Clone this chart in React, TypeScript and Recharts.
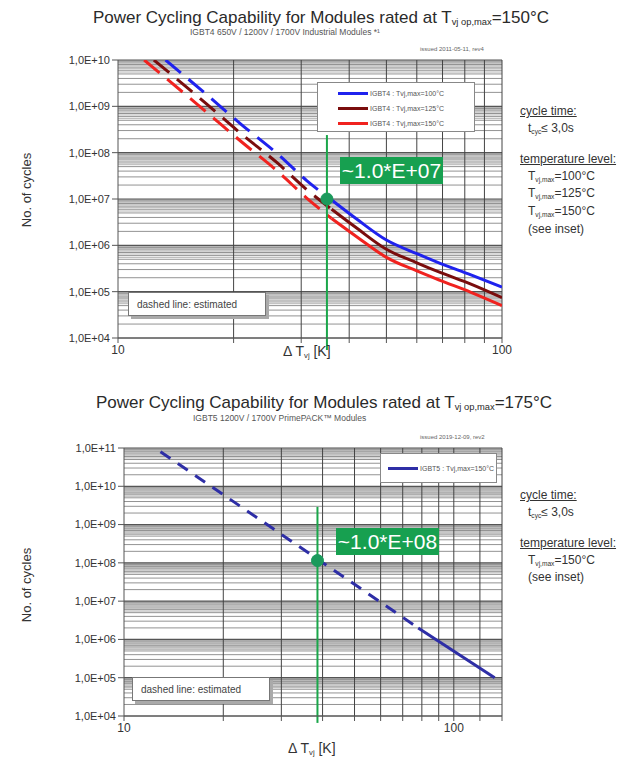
import React from 'react';
import { LineChart, Line, XAxis, YAxis, ReferenceLine, ReferenceDot } from 'recharts';

// top chart: IGBT4, three temperature levels (dashed = estimated part)
const blueDashed = [
  { x: 13.3, y: 1.0e10 }, { x: 17, y: 1.8e9 }, { x: 21, y: 4.0e8 },
  { x: 26, y: 9.5e7 }, { x: 31, y: 2.5e7 }, { x: 36, y: 9.5e6 },
];
const blueSolid = [
  { x: 36, y: 9.5e6 }, { x: 42, y: 3.6e6 }, { x: 50, y: 1.3e6 }, { x: 60, y: 6.6e5 },
  { x: 69, y: 4.1e5 }, { x: 83, y: 2.3e5 }, { x: 100, y: 1.25e5 },
];
const darkDashed = [
  { x: 12.4, y: 1.0e10 }, { x: 17, y: 1.13e9 }, { x: 21, y: 2.5e8 },
  { x: 26, y: 6.0e7 }, { x: 31, y: 1.6e7 }, { x: 36, y: 6.0e6 },
];
const darkSolid = [
  { x: 36, y: 6.0e6 }, { x: 42, y: 2.3e6 }, { x: 50, y: 8.2e5 }, { x: 60, y: 4.2e5 },
  { x: 69, y: 2.6e5 }, { x: 83, y: 1.45e5 }, { x: 100, y: 7.4e4 },
];
const redDashed = [
  { x: 11.7, y: 1.0e10 }, { x: 17, y: 7.5e8 }, { x: 21, y: 1.7e8 },
  { x: 26, y: 4.0e7 }, { x: 31, y: 1.05e7 }, { x: 36, y: 3.8e6 },
];
const redSolid = [
  { x: 36, y: 3.8e6 }, { x: 42, y: 1.5e6 }, { x: 50, y: 5.5e5 }, { x: 60, y: 2.8e5 },
  { x: 69, y: 1.75e5 }, { x: 83, y: 9.7e4 }, { x: 100, y: 5.0e4 },
];

// bottom chart: IGBT5
const igbt5Dashed = [{ x: 12.9, y: 8e10 }, { x: 78, y: 2e6 }];
const igbt5Solid = [{ x: 78, y: 2e6 }, { x: 133, y: 1e5 }];

// axes / grid
const topDecades = [1e4, 1e5, 1e6, 1e7, 1e8, 1e9, 1e10];
const bottomDecades = [1e4, 1e5, 1e6, 1e7, 1e8, 1e9, 1e10, 1e11];
const minorSteps = [2, 3, 4, 5, 6, 7, 8, 9];
const fineSteps = [5.5, 6.5, 7.5, 8.5, 9.25, 9.5, 9.75];
const topXTicks = [10, 20, 30, 40, 50, 60, 70, 80, 90, 100];
const bottomXTicks = [10, 20, 30, 40, 50, 60, 70, 80, 90, 100, 120, 140];

const FONT = '"Liberation Sans", Arial, sans-serif';

const fmtY = (v: number) => '1,0E+' + String(Math.round(Math.log10(v))).padStart(2, '0');
const fmtX = (v: number) => (v === 10 || v === 100 ? String(v) : '');

const gridLines = (decades: number[]) => {
  const out: React.ReactNode[] = [];
  decades.slice(0, -1).forEach((d) => {
    fineSteps.forEach((k) => out.push(<ReferenceLine key={'f' + d + k} y={d * k} stroke="#b5b5b5" strokeWidth={1} />));
    minorSteps.forEach((k) => out.push(<ReferenceLine key={'m' + d + k} y={d * k} stroke="#939393" strokeWidth={1} />));
  });
  decades.forEach((d) => out.push(<ReferenceLine key={'d' + d} y={d} stroke="#555" strokeWidth={1.2} />));
  return out;
};

const Sub = ({ children }: { children: React.ReactNode }) => (
  <span style={{ fontSize: '0.55em', verticalAlign: '-0.25em' }}>{children}</span>
);

const abs = (l: number, t: number, extra: React.CSSProperties = {}): React.CSSProperties => ({
  position: 'absolute', left: l, top: t, ...extra,
});

const GreenTag = ({ l, t, text }: { l: number; t: number; text: string }) => (
  <div style={abs(l, t, { width: 103, height: 27, background: '#17a050', color: '#fff', fontSize: 21, lineHeight: '27px', textAlign: 'center' })}>
    {text}
  </div>
);

const Estimated = ({ l, t }: { l: number; t: number }) => (
  <div style={abs(l, t, { width: 138, height: 24, background: '#fff', border: '1px solid #777', boxShadow: '3px 3px 0 #aaa', fontSize: 10, color: '#444', lineHeight: '24px', paddingLeft: 8, boxSizing: 'border-box' })}>
    dashed line: estimated
  </div>
);

const LegendRow = ({ color, text }: { color: string; text: string }) => (
  <div style={{ display: 'flex', alignItems: 'center', height: 15 }}>
    <div style={{ width: 30, height: 3, background: color, marginRight: 2 }} />
    <span style={{ fontSize: 7, color: '#555' }}>{text}</span>
  </div>
);

const underline: React.CSSProperties = { textDecoration: 'underline' };

export default function App() {
  return (
    <div style={{ position: 'absolute', left: 0, top: 0, width: 639, height: 764, background: '#fff', fontFamily: FONT, color: '#333', overflow: 'hidden' }}>
      {/* ---------- top chart ---------- */}
      <div style={abs(0, 8, { width: 642, textAlign: 'center', fontSize: 17, color: '#2a2a2a' })}>
        Power Cycling Capability for Modules rated at T<Sub>vj op,max</Sub>=150°C
      </div>
      <div style={abs(190, 27, { fontSize: 8.5, color: '#555' })}>IGBT4 650V / 1200V / 1700V Industrial Modules *¹</div>
      <div style={abs(420, 46, { fontSize: 6, color: '#666' })}>issued 2011-05-11, rev4</div>

      <div style={abs(0, 0)}>
        <LineChart width={639} height={380} margin={{ top: 60, right: 137, bottom: 12, left: 58 }}>
          <XAxis type="number" dataKey="x" scale="log" domain={[10, 100]} allowDataOverflow ticks={topXTicks}
            tickFormatter={fmtX} tick={{ fontSize: 12, fill: '#333' }} stroke="#555" tickSize={5} height={30} />
          <YAxis type="number" dataKey="y" scale="log" domain={[1e4, 1e10]} allowDataOverflow ticks={topDecades}
            tickFormatter={fmtY} tick={{ fontSize: 11, fill: '#333' }} stroke="#555" tickSize={6} width={60} />
          {gridLines(topDecades)}
          {topXTicks.slice(1).map((v) => <ReferenceLine key={'v' + v} x={v} stroke="#444" strokeWidth={1} />)}
          <Line data={blueDashed} dataKey="y" type="monotone" stroke="#1f22ee" strokeWidth={3} strokeDasharray="20 10" dot={false} isAnimationActive={false} />
          <Line data={darkDashed} dataKey="y" type="monotone" stroke="#7a0d0d" strokeWidth={3} strokeDasharray="20 10" dot={false} isAnimationActive={false} />
          <Line data={redDashed} dataKey="y" type="monotone" stroke="#f0221f" strokeWidth={3} strokeDasharray="20 10" dot={false} isAnimationActive={false} />
          <Line data={blueSolid} dataKey="y" type="monotone" stroke="#1f22ee" strokeWidth={3} dot={false} isAnimationActive={false} />
          <Line data={darkSolid} dataKey="y" type="monotone" stroke="#7a0d0d" strokeWidth={3} dot={false} isAnimationActive={false} />
          <Line data={redSolid} dataKey="y" type="monotone" stroke="#f0221f" strokeWidth={3} dot={false} isAnimationActive={false} />
          <ReferenceLine segment={[{ x: 35, y: 2.4e8 }, { x: 35, y: 5.5e3 }]} ifOverflow="visible" stroke="#1aa64a" strokeWidth={2} />
          <ReferenceDot x={35} y={1e7} r={6} fill="#1b9a5c" stroke="#1b9a5c" />
        </LineChart>
      </div>

      <div style={abs(26, 190, { transform: 'translate(-50%, -50%) rotate(-90deg)', fontSize: 13, whiteSpace: 'nowrap' })}>No. of cycles</div>
      <div style={abs(283, 343, { fontSize: 14 })}>Δ T<Sub>vj</Sub> [K]</div>

      <div style={abs(317, 82, { width: 158, height: 50, background: '#fff', border: '1px solid #888', boxSizing: 'border-box', padding: '3px 0 0 20px' })}>
        <LegendRow color="#1f22ee" text="IGBT4  :  Tvj,max=100°C" />
        <LegendRow color="#7a0d0d" text="IGBT4  :  Tvj,max=125°C" />
        <LegendRow color="#f0221f" text="IGBT4  :  Tvj,max=150°C" />
      </div>
      <GreenTag l={340} t={157} text="~1.0*E+07" />
      <Estimated l={128} t={292} />

      <div style={abs(520, 104, { fontSize: 12, lineHeight: '15px' })}>
        <div style={underline}>cycle time:</div>
        <div style={{ paddingLeft: 8, marginTop: 2 }}>t<Sub>cyc</Sub>≤ 3,0s</div>
        <div style={{ ...underline, marginTop: 13 }}>temperature level:</div>
        <div style={{ paddingLeft: 8, marginTop: 2 }}>T<Sub>vj,max</Sub>=100°C</div>
        <div style={{ paddingLeft: 8 }}>T<Sub>vj,max</Sub>=125°C</div>
        <div style={{ paddingLeft: 8 }}>T<Sub>vj,max</Sub>=150°C</div>
        <div style={{ paddingLeft: 8 }}>(see inset)</div>
      </div>

      {/* ---------- bottom chart ---------- */}
      <div style={abs(0, 393, { width: 648, textAlign: 'center', fontSize: 17, color: '#2a2a2a' })}>
        Power Cycling Capability for Modules rated at T<Sub>vj op,max</Sub>=175°C
      </div>
      <div style={abs(193, 413, { fontSize: 8.5, color: '#555' })}>IGBT5 1200V / 1700V PrimePACK™ Modules</div>
      <div style={abs(420, 434, { fontSize: 6, color: '#666' })}>issued 2019-12-09, rev2</div>

      <div style={abs(0, 380)}>
        <LineChart width={639} height={384} margin={{ top: 68, right: 137, bottom: 18, left: 64 }}>
          <XAxis type="number" dataKey="x" scale="log" domain={[10, 140]} allowDataOverflow ticks={bottomXTicks}
            tickFormatter={fmtX} tick={{ fontSize: 12, fill: '#333' }} stroke="#555" tickSize={5} height={30} />
          <YAxis type="number" dataKey="y" scale="log" domain={[1e4, 1e11]} allowDataOverflow ticks={bottomDecades}
            tickFormatter={fmtY} tick={{ fontSize: 11, fill: '#333' }} stroke="#555" tickSize={6} width={60} />
          {gridLines(bottomDecades)}
          {bottomXTicks.slice(1).map((v) => <ReferenceLine key={'v' + v} x={v} stroke="#444" strokeWidth={1} />)}
          <Line data={igbt5Dashed} dataKey="y" type="linear" stroke="#2e2ea6" strokeWidth={3} strokeDasharray="12 9" dot={false} isAnimationActive={false} />
          <Line data={igbt5Solid} dataKey="y" type="linear" stroke="#2e2ea6" strokeWidth={3} dot={false} isAnimationActive={false} />
          <ReferenceLine segment={[{ x: 38.6, y: 2.9e9 }, { x: 38.6, y: 6.6e3 }]} ifOverflow="visible" stroke="#1aa64a" strokeWidth={2} />
          <ReferenceDot x={38.6} y={1.15e8} r={6} fill="#1b9a5c" stroke="#1b9a5c" />
        </LineChart>
      </div>

      <div style={abs(26, 585, { transform: 'translate(-50%, -50%) rotate(-90deg)', fontSize: 13, whiteSpace: 'nowrap' })}>No. of cycles</div>
      <div style={abs(288, 740, { fontSize: 14 })}>Δ T<Sub>vj</Sub> [K]</div>

      <div style={abs(380, 453, { width: 117, height: 30, background: '#fff', border: '1px solid #888', boxSizing: 'border-box', padding: '7px 0 0 7px' })}>
        <LegendRow color="#2e2ea6" text="IGBT5  :  Tvj,max=150°C" />
      </div>
      <GreenTag l={336} t={528} text="~1.0*E+08" />
      <Estimated l={132} t={677} />

      <div style={abs(520, 488, { fontSize: 12, lineHeight: '15px' })}>
        <div style={underline}>cycle time:</div>
        <div style={{ paddingLeft: 8, marginTop: 2 }}>t<Sub>cyc</Sub>≤ 3,0s</div>
        <div style={{ ...underline, marginTop: 13 }}>temperature level:</div>
        <div style={{ paddingLeft: 8, marginTop: 2 }}>T<Sub>vj,max</Sub>=150°C</div>
        <div style={{ paddingLeft: 8 }}>(see inset)</div>
      </div>
    </div>
  );
}
